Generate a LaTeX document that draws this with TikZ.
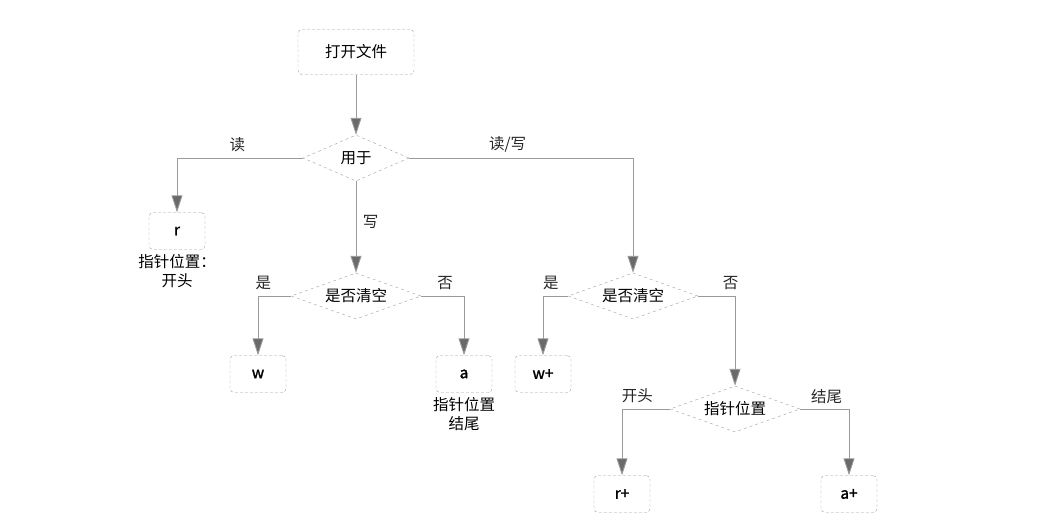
\documentclass[tikz,border=0pt]{standalone}
\usepackage{fontspec}
\setmainfont{Noto Sans CJK SC}[BoldFont={Noto Sans CJK SC}, BoldFeatures={FakeBold=1.5}]
\usetikzlibrary{arrows.meta,shapes.geometric,positioning}
\definecolor{FlowLine}{HTML}{9A9A9A}
\definecolor{FlowHead}{HTML}{6A6A6A}
\definecolor{FlowEdge}{HTML}{A0A0A0}

\tikzset{
  procbox/.style={draw=FlowEdge, densely dashed, rounded corners=4pt, minimum width=56pt, minimum height=37pt, inner sep=2pt},
  modebox/.style={procbox, font=\fontsize{15.5}{19}\selectfont\bfseries},
  decide/.style={diamond, draw=FlowEdge, dashed, aspect=2.9, inner sep=0pt, minimum width=130pt, minimum height=46pt},
  arr/.style={FlowLine, line width=0.9pt, -{Triangle[length=17pt, width=11pt, fill=FlowHead]}},
  lbl/.style={text=black!85, above, yshift=2pt},
}

\begin{document}
\begin{tikzpicture}[x=1pt, y=-1pt, font=\fontsize{15.5}{19}\selectfont]
    \useasboundingbox (0,0) rectangle (1043,520);

    % Start
    \node[procbox, minimum width=116pt, minimum height=45pt] (open) at (356,52) {打开文件};

    % First decision
    \node[decide, minimum width=106pt] (use) at (356,158) {用于};

    % Read only
    \node[modebox] (r) at (177,231) {r};
    \node[align=center, below=1pt of r] (rnote) {指针位置：\\开头};

    % Write branch
    \node[decide] (clearw) at (356,296) {是否清空};
    \node[modebox] (w) at (258,374) {w};
    \node[modebox] (a) at (464,374) {a};
    \node[align=center, below=1pt of a] (anote) {指针位置\\结尾};

    % Read/write branch
    \node[decide] (clearrw) at (633,296) {是否清空};
    \node[modebox] (wp) at (543,374) {w+};
    \node[decide] (ptr) at (735,409) {指针位置};
    \node[modebox] (rp) at (622,494) {r+};
    \node[modebox] (ap) at (849,494) {a+};

    % Connectors
    \draw[arr] (open) -- (use);
    \draw[arr] (use.west) -| node[lbl, pos=0.26] (lread) {读} (r);
    \draw[arr] (use.south) -- node[text=black!85, right, xshift=3pt, pos=0.45] (lwrite) {写} (clearw);
    \draw[arr] (use.east) -| node[lbl, pos=0.22] (lrw) {读/写} (clearrw);

    \draw[arr] (clearw.west) -| node[lbl, pos=0.42] (lyes1) {是} (w);
    \draw[arr] (clearw.east) -| node[lbl, pos=0.28] (lno1) {否} (a);

    \draw[arr] (clearrw.west) -| node[lbl, pos=0.34] (lyes2) {是} (wp);
    \draw[arr] (clearrw.east) -| node[lbl, pos=0.44] (lno2) {否} (ptr);

    \draw[arr] (ptr.west) -| node[lbl, pos=0.34] (lhead) {开头} (rp);
    \draw[arr] (ptr.east) -| node[lbl, pos=0.27] (ltail) {结尾} (ap);
\end{tikzpicture}
\end{document}
